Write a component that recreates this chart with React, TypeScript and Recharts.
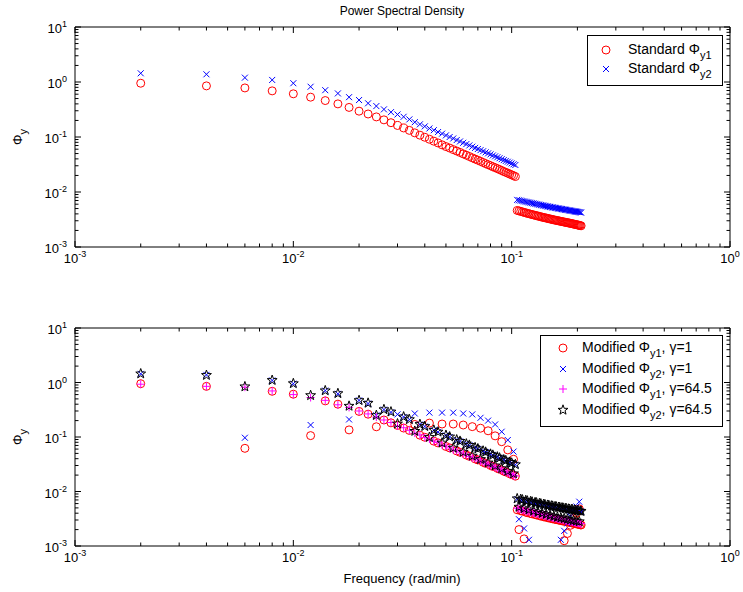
import React from "react";
import { ScatterChart, Scatter, XAxis, YAxis } from "recharts";

const FONT = '"Liberation Sans", Arial, Helvetica, sans-serif';

// frequency grid (rad/min), two sampling segments
const freqLow = [
  0.002, 0.004, 0.006, 0.008, 0.01, 0.012, 0.014, 0.016, 0.018, 0.02, 0.022, 0.024, 0.026,
  0.028, 0.03, 0.032, 0.034, 0.036, 0.038, 0.04, 0.042, 0.044, 0.046, 0.048, 0.05, 0.052,
  0.054, 0.056, 0.058, 0.06, 0.062, 0.064, 0.066, 0.068, 0.07, 0.072, 0.074, 0.076, 0.078,
  0.08, 0.082, 0.084, 0.086, 0.088, 0.09, 0.092, 0.094, 0.096, 0.098, 0.1, 0.102, 0.104,
];
const freqHigh = [
  0.106, 0.108, 0.11, 0.112, 0.114, 0.116, 0.118, 0.12, 0.122, 0.124, 0.126, 0.128, 0.13,
  0.132, 0.134, 0.136, 0.138, 0.14, 0.142, 0.144, 0.146, 0.148, 0.15, 0.152, 0.154, 0.156,
  0.158, 0.16, 0.162, 0.164, 0.166, 0.168, 0.17, 0.172, 0.174, 0.176, 0.178, 0.18, 0.182,
  0.184, 0.186, 0.188, 0.19, 0.192, 0.194, 0.196, 0.198, 0.2, 0.202, 0.204, 0.206, 0.208,
];

// standard PSD
const stdY1Low = [
  0.95, 0.85, 0.78, 0.69, 0.61, 0.53, 0.46, 0.4, 0.345, 0.295, 0.262, 0.232, 0.205, 0.182,
  0.162, 0.146, 0.132, 0.119, 0.108, 0.099, 0.091, 0.084, 0.078, 0.072, 0.067, 0.063, 0.059,
  0.0556, 0.0524, 0.0493, 0.0467, 0.0442, 0.0418, 0.0397, 0.0379, 0.0361, 0.0344, 0.0328,
  0.0314, 0.0301, 0.0288, 0.0277, 0.0266, 0.0256, 0.0246, 0.0236, 0.0228, 0.022, 0.0212,
  0.0205, 0.0198, 0.0191,
];
const stdY1High = [
  0.00462, 0.00453, 0.00444, 0.00435, 0.00426, 0.00418, 0.00409, 0.00403, 0.00395, 0.00389,
  0.00383, 0.00377, 0.00371, 0.00365, 0.0036, 0.00354, 0.00349, 0.00344, 0.0034, 0.00336,
  0.00331, 0.00327, 0.00323, 0.00319, 0.00315, 0.00312, 0.00308, 0.00305, 0.00302, 0.00299,
  0.00296, 0.00293, 0.0029, 0.00287, 0.00284, 0.00282, 0.00279, 0.00277, 0.00274, 0.00272,
  0.00269, 0.00267, 0.00264, 0.00262, 0.00259, 0.00257, 0.00255, 0.00252, 0.0025, 0.00248,
  0.00245, 0.00243,
];
const stdY2Low = [
  1.44, 1.38, 1.2, 1.09, 0.95, 0.82, 0.71, 0.62, 0.53, 0.47, 0.41, 0.365, 0.318, 0.283, 0.257,
  0.233, 0.209, 0.186, 0.17, 0.156, 0.143, 0.133, 0.123, 0.115, 0.107, 0.1, 0.094, 0.088,
  0.083, 0.0785, 0.0743, 0.0703, 0.0667, 0.0634, 0.0605, 0.0577, 0.0551, 0.0526, 0.0504,
  0.0483, 0.0462, 0.0445, 0.0428, 0.0411, 0.0395, 0.038, 0.0367, 0.0355, 0.0343, 0.0331,
  0.0319, 0.031,
];
const stdY2High = [
  0.00719, 0.00708, 0.00697, 0.00686, 0.00675, 0.00665, 0.00655, 0.00646, 0.00637, 0.00628,
  0.00619, 0.00611, 0.00603, 0.00594, 0.00587, 0.00579, 0.00573, 0.00566, 0.0056, 0.00553,
  0.00547, 0.00541, 0.00536, 0.0053, 0.00525, 0.0052, 0.00515, 0.00511, 0.00506, 0.00501,
  0.00497, 0.00493, 0.00489, 0.00484, 0.00481, 0.00476, 0.00473, 0.0047, 0.00466, 0.00462,
  0.00458, 0.00455, 0.00452, 0.00449, 0.00445, 0.00442, 0.00439, 0.00436, 0.00433, 0.0043,
  0.00427, 0.00423,
];

// modified, gamma = 1: same as standard except at these frequencies
const dipFreqs = [
  0.006, 0.012, 0.018, 0.024, 0.03, 0.036, 0.042, 0.048, 0.054, 0.06, 0.066, 0.072, 0.078,
  0.084, 0.09, 0.096, 0.102, 0.108, 0.114, 0.12, 0.126, 0.132, 0.138, 0.144, 0.15, 0.156,
  0.162, 0.168, 0.174, 0.18, 0.186, 0.192, 0.198, 0.204,
];
const dipY1 = [
  0.062, 0.106, 0.135, 0.154, 0.163, 0.17, 0.18, 0.173, 0.173, 0.166, 0.155, 0.145, 0.13,
  0.105, 0.082, 0.058, 0.039, 0.002, 0.00135, 0.0007, 0.0006, 0.0005, 0.0004, 0.0004, 0.0004,
  0.0005, 0.0006, 0.0008, 0.00125, 0.0017, 0.0024, 0.0032, 0.004, 0.0048,
];
const dipY2 = [
  0.097, 0.166, 0.21, 0.25, 0.26, 0.27, 0.28, 0.28, 0.28, 0.27, 0.26, 0.225, 0.2, 0.17, 0.125,
  0.088, 0.054, 0.0031, 0.0021, 0.0013, 0.0008, 0.0006, 0.0005, 0.0005, 0.0005, 0.0006,
  0.0008, 0.0013, 0.0019, 0.0026, 0.0035, 0.0044, 0.0053, 0.0065,
];

// modified, gamma = 64.5
const mod64Y1Low = [
  0.93, 0.85, 0.82, 0.7, 0.6, 0.53, 0.47, 0.39, 0.35, 0.3, 0.265, 0.232, 0.205, 0.185, 0.16,
  0.148, 0.133, 0.118, 0.109, 0.098, 0.092, 0.084, 0.079, 0.071, 0.068, 0.063, 0.058, 0.056,
  0.053, 0.049, 0.047, 0.044, 0.0415, 0.04, 0.038, 0.036, 0.0345, 0.033, 0.0312, 0.03, 0.029,
  0.0276, 0.0267, 0.0257, 0.0245, 0.0237, 0.0228, 0.0219, 0.0213, 0.0205, 0.0197, 0.0192,
];
const mod64Y1High = [
  0.00495, 0.0048, 0.0047, 0.00462, 0.0045, 0.00444, 0.00432, 0.00428, 0.00418, 0.00414,
  0.00404, 0.004, 0.00392, 0.00388, 0.0038, 0.00376, 0.00368, 0.00366, 0.00358, 0.00356,
  0.00349, 0.00347, 0.0034, 0.00338, 0.00332, 0.00331, 0.00324, 0.00323, 0.00317, 0.00316,
  0.00311, 0.0031, 0.00305, 0.00304, 0.00299, 0.00298, 0.00293, 0.00293, 0.00288, 0.00287,
  0.00283, 0.00282, 0.00278, 0.00277, 0.00273, 0.00272, 0.00268, 0.00267, 0.00263, 0.00263,
  0.00258, 0.00257,
];
const mod64Y2Low = [
  1.45, 1.36, 0.84, 1.1, 0.96, 0.58, 0.71, 0.63, 0.37, 0.47, 0.42, 0.25, 0.32, 0.29, 0.175,
  0.235, 0.21, 0.128, 0.171, 0.157, 0.099, 0.134, 0.124, 0.078, 0.108, 0.101, 0.063, 0.089,
  0.084, 0.053, 0.075, 0.071, 0.045, 0.064, 0.061, 0.039, 0.0555, 0.053, 0.0337, 0.0487,
  0.0466, 0.0298, 0.0432, 0.0414, 0.0265, 0.0383, 0.037, 0.0237, 0.0346, 0.0334, 0.0213,
  0.0313,
];
const mod64Y2High = [
  0.0074, 0.0052, 0.0072, 0.00705, 0.0049, 0.00685, 0.00672, 0.00465, 0.00655, 0.00645,
  0.0044, 0.00628, 0.0062, 0.0042, 0.00603, 0.00596, 0.004, 0.00582, 0.00575, 0.00382,
  0.00562, 0.00556, 0.00365, 0.00545, 0.0054, 0.00352, 0.00529, 0.00524, 0.0034, 0.00515,
  0.0051, 0.0033, 0.00502, 0.00497, 0.0032, 0.00489, 0.00485, 0.00311, 0.00478, 0.00474,
  0.00302, 0.00467, 0.00464, 0.00295, 0.00457, 0.00454, 0.00288, 0.00447, 0.00444, 0.00281,
  0.00438, 0.00435,
];

const xTicks = [
  0.001, 0.002, 0.003, 0.004, 0.005, 0.006, 0.007, 0.008, 0.009, 0.01, 0.02, 0.03, 0.04, 0.05,
  0.06, 0.07, 0.08, 0.09, 0.1, 0.2, 0.3, 0.4, 0.5, 0.6, 0.7, 0.8, 0.9, 1,
];
const yTicks = [
  0.001, 0.002, 0.003, 0.004, 0.005, 0.006, 0.007, 0.008, 0.009, 0.01, 0.02, 0.03, 0.04, 0.05,
  0.06, 0.07, 0.08, 0.09, 0.1, 0.2, 0.3, 0.4, 0.5, 0.6, 0.7, 0.8, 0.9, 1, 2, 3, 4, 5, 6, 7, 8,
  9, 10,
];

const freqs = [...freqLow, ...freqHigh];
const stdY1 = [...stdY1Low, ...stdY1High];
const stdY2 = [...stdY2Low, ...stdY2High];

const withDips = (base: number[], dips: number[]) =>
  freqs.map((f, i) => {
    const k = dipFreqs.findIndex((d) => Math.abs(d - f) < 1e-9);
    return k >= 0 ? dips[k] : base[i];
  });

const toPoints = (ys: number[]) => freqs.map((f, i) => ({ x: f, y: ys[i] }));

const stdData1 = toPoints(stdY1);
const stdData2 = toPoints(stdY2);
const modData1 = toPoints(withDips(stdY1, dipY1));
const modData2 = toPoints(withDips(stdY2, dipY2));
const mod64Data1 = toPoints([...mod64Y1Low, ...mod64Y1High]);
const mod64Data2 = toPoints([...mod64Y2Low, ...mod64Y2High]);

// markers
const RED = "#ff0000";
const BLUE = "#0000ff";
const MAGENTA = "#ff00ff";

const circleAt = (cx: number, cy: number) => (
  <circle cx={cx} cy={cy} r={4} fill="none" stroke={RED} strokeWidth={1} />
);
const crossAt = (cx: number, cy: number) => (
  <path
    d={`M${cx - 3},${cy - 3}L${cx + 3},${cy + 3}M${cx - 3},${cy + 3}L${cx + 3},${cy - 3}`}
    stroke={BLUE}
    strokeWidth={1}
  />
);
const plusAt = (cx: number, cy: number) => (
  <path
    d={`M${cx - 4},${cy}L${cx + 4},${cy}M${cx},${cy - 4}L${cx},${cy + 4}`}
    stroke={MAGENTA}
    strokeWidth={1}
  />
);
const starAt = (cx: number, cy: number) => {
  const pts: string[] = [];
  for (let i = 0; i < 10; i++) {
    const r = i % 2 === 0 ? 5.2 : 2.1;
    const a = -Math.PI / 2 + (i * Math.PI) / 5;
    pts.push(`${(cx + r * Math.cos(a)).toFixed(2)},${(cy + r * Math.sin(a)).toFixed(2)}`);
  }
  return <polygon points={pts.join(" ")} fill="none" stroke="#000" strokeWidth={1} />;
};

const shapeOf = (draw: (cx: number, cy: number) => React.ReactElement) => (props: any) => {
  if (props.cx == null || props.cy == null || isNaN(props.cx) || isNaN(props.cy)) return <g />;
  return draw(props.cx, props.cy);
};

const isDecade = (v: number) => Math.abs(Math.log10(v) - Math.round(Math.log10(v))) < 1e-6;

type Plot = { left: number; right: number; top: number; bottom: number };

const tickText = { fontFamily: FONT, fill: "#000" };

const bottomTick = (p: Plot) => (props: any) => {
  const v = props.payload.value;
  const x = props.payload.coordinate ?? props.x;
  const major = isDecade(v);
  return (
    <g>
      <line x1={x} y1={p.bottom} x2={x} y2={p.bottom - (major ? 6 : 3.5)} stroke="#000" />
      {major && (
        <text x={x} y={p.bottom + 16} textAnchor="middle" fontSize={13} {...tickText}>
          <tspan>10</tspan>
          <tspan dy={-6} fontSize={9}>
            {Math.round(Math.log10(v))}
          </tspan>
        </text>
      )}
    </g>
  );
};
const topTick = (p: Plot) => (props: any) => {
  const major = isDecade(props.payload.value);
  const x = props.payload.coordinate ?? props.x;
  return <line x1={x} y1={p.top} x2={x} y2={p.top + (major ? 6 : 3.5)} stroke="#000" />;
};
const leftTick = (p: Plot) => (props: any) => {
  const v = props.payload.value;
  const y = props.payload.coordinate ?? props.y;
  const major = isDecade(v);
  return (
    <g>
      <line x1={p.left} y1={y} x2={p.left + (major ? 6 : 3.5)} y2={y} stroke="#000" />
      {major && (
        <text x={p.left - 8} y={y + 6} textAnchor="end" fontSize={13} {...tickText}>
          <tspan>10</tspan>
          <tspan dy={-6} fontSize={9}>
            {Math.round(Math.log10(v))}
          </tspan>
        </text>
      )}
    </g>
  );
};
const rightTick = (p: Plot) => (props: any) => {
  const major = isDecade(props.payload.value);
  const y = props.payload.coordinate ?? props.y;
  return <line x1={p.right} y1={y} x2={p.right - (major ? 6 : 3.5)} y2={y} stroke="#000" />;
};

const W = 743;
const LEFT = 75;
const RIGHT = 730;
const X_AXIS_H = 20;
const Y_AXIS_W = 30;
const THIN = 2;

function PsdPanel({
  height,
  top,
  bottom,
  children,
}: {
  height: number;
  top: number;
  bottom: number;
  children: React.ReactNode;
}) {
  const plot: Plot = { left: LEFT, right: RIGHT, top, bottom: height - bottom };
  return (
    <ScatterChart
      width={W}
      height={height}
      margin={{
        top: top - THIN,
        right: W - RIGHT - THIN,
        bottom: bottom - X_AXIS_H,
        left: LEFT - Y_AXIS_W,
      }}
    >
      <XAxis
        type="number"
        dataKey="x"
        scale="log"
        domain={[0.001, 1]}
        allowDataOverflow
        ticks={xTicks}
        interval={0}
        height={X_AXIS_H}
        tickLine={false}
        axisLine={{ stroke: "#000" }}
        tick={bottomTick(plot)}
      />
      <XAxis
        xAxisId="top"
        orientation="top"
        type="number"
        dataKey="x"
        scale="log"
        domain={[0.001, 1]}
        allowDataOverflow
        ticks={xTicks}
        interval={0}
        height={THIN}
        tickLine={false}
        axisLine={{ stroke: "#000" }}
        tick={topTick(plot)}
      />
      <YAxis
        type="number"
        dataKey="y"
        scale="log"
        domain={[0.001, 10]}
        allowDataOverflow
        ticks={yTicks}
        interval={0}
        width={Y_AXIS_W}
        tickLine={false}
        axisLine={{ stroke: "#000" }}
        tick={leftTick(plot)}
      />
      <YAxis
        yAxisId="right"
        orientation="right"
        type="number"
        dataKey="y"
        scale="log"
        domain={[0.001, 10]}
        allowDataOverflow
        ticks={yTicks}
        interval={0}
        width={THIN}
        tickLine={false}
        axisLine={{ stroke: "#000" }}
        tick={rightTick(plot)}
      />
      {children}
    </ScatterChart>
  );
}

const Sub = ({ children }: { children: React.ReactNode }) => (
  <span style={{ fontSize: 11, position: "relative", top: 5 }}>{children}</span>
);

const Marker = ({ draw }: { draw: (cx: number, cy: number) => React.ReactElement }) => (
  <svg width={14} height={14} style={{ position: "absolute", left: 0, top: 0 }}>
    {draw(7, 7)}
  </svg>
);

type LegendRow = { draw: (cx: number, cy: number) => React.ReactElement; label: React.ReactNode };

function LegendBox({
  left,
  top,
  width,
  height,
  rowY,
  markerX,
  textX,
  rows,
}: {
  left: number;
  top: number;
  width: number;
  height: number;
  rowY: number[];
  markerX: number;
  textX: number;
  rows: LegendRow[];
}) {
  return (
    <div
      style={{
        position: "absolute",
        left,
        top,
        width,
        height,
        border: "1px solid #000",
        background: "#fff",
        boxSizing: "border-box",
        fontFamily: FONT,
        fontSize: 14,
      }}
    >
      {rows.map((r, i) => (
        <div key={i}>
          <div style={{ position: "absolute", left: markerX - 7, top: rowY[i] - 7 }}>
            <Marker draw={r.draw} />
          </div>
          <div
            style={{
              position: "absolute",
              left: textX,
              top: rowY[i] - 9,
              whiteSpace: "nowrap",
              lineHeight: "16px",
            }}
          >
            {r.label}
          </div>
        </div>
      ))}
    </div>
  );
}

const abs = (extra: React.CSSProperties): React.CSSProperties => ({
  position: "absolute",
  fontFamily: FONT,
  color: "#000",
  whiteSpace: "nowrap",
  ...extra,
});

export default function App() {
  return (
    <div style={{ position: "absolute", left: 0, top: 0, width: W, height: 592, background: "#fff" }}>
      <div style={{ position: "absolute", left: 0, top: 0 }}>
        <PsdPanel height={300} top={27} bottom={53}>
          <Scatter data={stdData1} shape={shapeOf(circleAt)} isAnimationActive={false} />
          <Scatter data={stdData2} shape={shapeOf(crossAt)} isAnimationActive={false} />
        </PsdPanel>
      </div>
      <div style={{ position: "absolute", left: 0, top: 300 }}>
        <PsdPanel height={292} top={28} bottom={46}>
          <Scatter data={modData1} shape={shapeOf(circleAt)} isAnimationActive={false} />
          <Scatter data={modData2} shape={shapeOf(crossAt)} isAnimationActive={false} />
          <Scatter data={mod64Data1} shape={shapeOf(plusAt)} isAnimationActive={false} />
          <Scatter data={mod64Data2} shape={shapeOf(starAt)} isAnimationActive={false} />
        </PsdPanel>
      </div>

      <div style={abs({ left: 402, top: 4, fontSize: 12, transform: "translateX(-50%)" })}>
        Power Spectral Density
      </div>
      <div style={abs({ left: 402, top: 571, fontSize: 13, transform: "translateX(-50%)" })}>
        Frequency (rad/min)
      </div>
      <div
        style={abs({
          left: 17,
          top: 137,
          fontSize: 13,
          transform: "translate(-50%, -50%) rotate(-90deg)",
        })}
      >
        Φ<Sub>y</Sub>
      </div>
      <div
        style={abs({
          left: 17,
          top: 437,
          fontSize: 13,
          transform: "translate(-50%, -50%) rotate(-90deg)",
        })}
      >
        Φ<Sub>y</Sub>
      </div>

      <LegendBox
        left={587}
        top={35}
        width={136}
        height={51}
        rowY={[14, 33]}
        markerX={18}
        textX={40}
        rows={[
          { draw: circleAt, label: <>Standard Φ<Sub>y1</Sub></> },
          { draw: crossAt, label: <>Standard Φ<Sub>y2</Sub></> },
        ]}
      />
      <LegendBox
        left={540}
        top={335}
        width={183}
        height={92}
        rowY={[12, 33, 53, 74]}
        markerX={22}
        textX={41}
        rows={[
          { draw: circleAt, label: <>Modified Φ<Sub>y1</Sub>, γ=1</> },
          { draw: crossAt, label: <>Modified Φ<Sub>y2</Sub>, γ=1</> },
          { draw: plusAt, label: <>Modified Φ<Sub>y1</Sub>, γ=64.5</> },
          { draw: starAt, label: <>Modified Φ<Sub>y2</Sub>, γ=64.5</> },
        ]}
      />
    </div>
  );
}
